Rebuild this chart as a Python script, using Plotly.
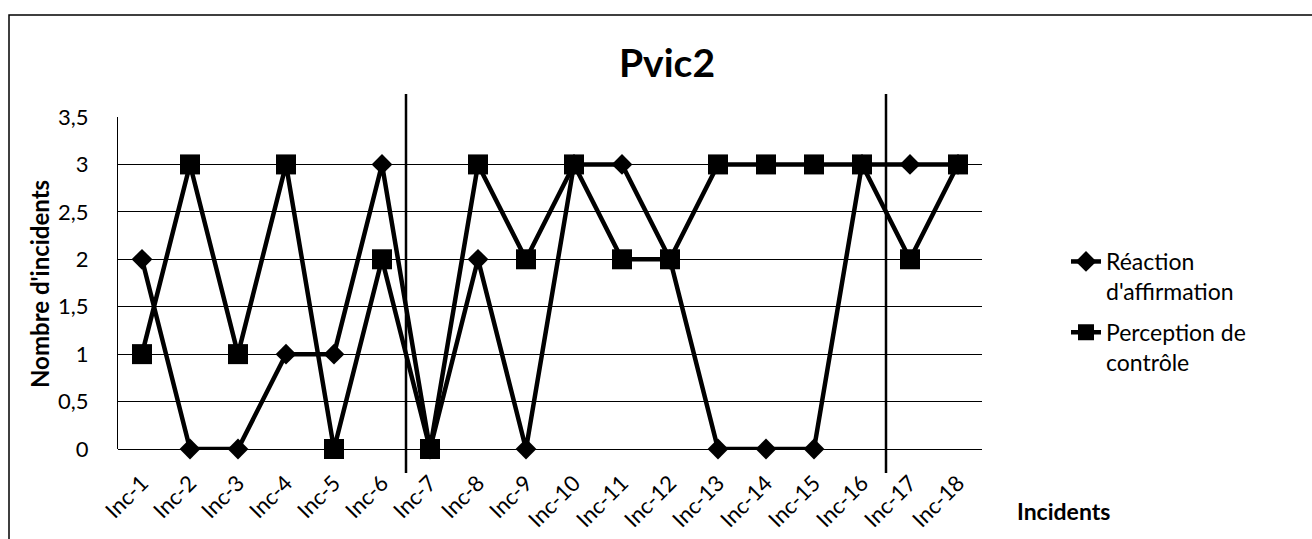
import plotly.graph_objects as go

# Incident labels and the two series scored per incident
incidents = [f"Inc-{i}" for i in range(1, 19)]
reaction_affirmation = [2, 0, 0, 1, 1, 3, 0, 2, 0, 3, 3, 2, 0, 0, 0, 3, 3, 3]
perception_controle = [1, 3, 1, 3, 0, 2, 0, 3, 2, 3, 2, 2, 3, 3, 3, 3, 2, 3]

# Phase boundaries: a vertical separator is drawn just before these incidents
phase_starts = ["Inc-7", "Inc-17"]

series_names = ["Réaction<br>d'affirmation", "Perception de<br>contrôle"]

FONT = "Lato"
W, H = 1312, 539
L, R, T, B = 118, 330, 117, 90
plot_w = W - L - R
plot_h = H - T - B

fig = go.Figure()
fig.add_trace(go.Scatter(
    x=incidents, y=reaction_affirmation, name=series_names[0],
    legendgroup="reaction", mode="lines+markers", cliponaxis=False,
    line=dict(color="black", width=4.5),
    marker=dict(symbol="diamond", size=16, color="black"),
))
fig.add_trace(go.Scatter(
    x=incidents, y=perception_controle, name=series_names[1],
    legendgroup="perception", mode="lines+markers", cliponaxis=False,
    line=dict(color="black", width=4.5),
    marker=dict(symbol="square", size=20, color="black"),
))

def px_x(px):
    return (px - L) / plot_w

def px_y(py):
    return (H - B - py) / plot_h

shapes = []
for inc in phase_starts:
    xpos = incidents.index(inc) - 0.5
    shapes.append(dict(type="line", xref="x", yref="paper",
                       x0=xpos, x1=xpos, y0=px_y(473), y1=px_y(94),
                       line=dict(color="black", width=2.5)))
# chart frame
shapes.append(dict(type="rect", xref="paper", yref="paper",
                   x0=px_x(9), x1=px_x(1400), y0=px_y(600), y1=px_y(15),
                   line=dict(color="black", width=1.5)))

fig.update_layout(
    width=W, height=H,
    margin=dict(l=L, r=R, t=T, b=B, pad=0, autoexpand=False),
    paper_bgcolor="white", plot_bgcolor="white",
    separators=", ",
    font=dict(family=FONT, color="black", size=22),
    title=dict(text="<b>Pvic2</b>", xref="container", x=667 / W, xanchor="center",
               yref="container", y=1 - 63 / H, yanchor="middle",
               font=dict(family=FONT, size=39, color="black")),
    showlegend=True,
    legend=dict(x=px_x(1066), xanchor="left", y=px_y(240), yanchor="top",
                valign="top", traceorder="grouped", tracegroupgap=8,
                font=dict(family=FONT, size=23, color="black"),
                bgcolor="rgba(0,0,0,0)"),
    xaxis=dict(type="category", range=[-0.5, len(incidents) - 0.5],
               tickangle=-45, showgrid=False, showline=False, automargin=False,
               ticks="", zeroline=False, ticklabelstandoff=16,
               tickfont=dict(family=FONT, size=22, color="black")),
    yaxis=dict(range=[0, 3.5], dtick=0.5, tick0=0, showgrid=True, automargin=False,
               gridcolor="black", gridwidth=1, zeroline=True, zerolinecolor="black",
               zerolinewidth=1, showline=True, linecolor="black", linewidth=1,
               ticks="", ticklabelstandoff=24,
               tickfont=dict(family=FONT, size=22, color="black")),
    shapes=shapes,
    annotations=[
        dict(text="<b>Incidents</b>", xref="paper", yref="paper",
             x=px_x(1015), y=px_y(511), xanchor="left", yanchor="middle",
             showarrow=False, font=dict(family=FONT, size=23, color="black")),
        dict(text="<b>Nombre d'incidents</b>", xref="paper", yref="paper",
             x=px_x(39), y=px_y(284), xanchor="center", yanchor="middle",
             textangle=-90, showarrow=False,
             font=dict(family=FONT, size=24, color="black")),
    ],
)

fig.write_html("out.html")
